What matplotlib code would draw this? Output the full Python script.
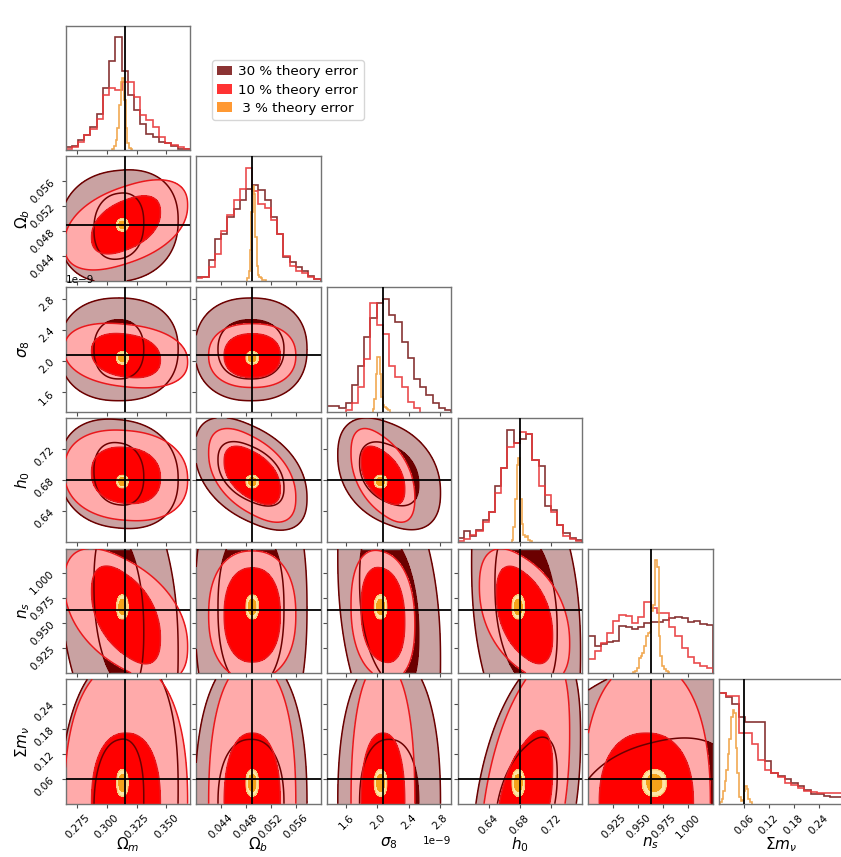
import numpy as np
import matplotlib
matplotlib.use("Agg")
import matplotlib.pyplot as plt
from matplotlib.patches import Patch

# parameters of the corner plot
LABELS = [r"$\Omega_m$", r"$\Omega_b$", r"$\sigma_8$", r"$h_0$", r"$n_s$", r"$\Sigma m_\nu$"]
TRUTHS = [0.3150, 0.0490, 2.075e-9, 0.680, 0.9630, 0.060]
RANGES = [(0.265, 0.370), (0.040, 0.060), (1.35e-9, 2.95e-9),
          (0.600, 0.760), (0.900, 1.0244), (0.0, 0.300)]
TICKS = [[0.275, 0.300, 0.325, 0.350],
         [0.044, 0.048, 0.052, 0.056],
         [1.6e-9, 2.0e-9, 2.4e-9, 2.8e-9],
         [0.64, 0.68, 0.72],
         [0.925, 0.950, 0.975, 1.000],
         [0.06, 0.12, 0.18, 0.24]]

LEVEL_LABELS = ["30 % theory error", "10 % theory error", " 3 % theory error"]

# 1D marginals (relative counts) and the span each histogram covers
SPAN_OM_30 = (0.265, 0.370)
HIST_OM_30 = [0.027, 0.035, 0.08, 0.12, 0.19, 0.29, 0.50, 0.72, 0.907, 0.64,
              0.44, 0.32, 0.21, 0.13, 0.11, 0.067, 0.054, 0.032, 0.013, 0.008]
SPAN_OM_10 = (0.265, 0.370)
HIST_OM_10 = [0.013, 0.027, 0.067, 0.12, 0.17, 0.25, 0.44, 0.50, 0.48, 0.55,
              0.55, 0.43, 0.28, 0.24, 0.19, 0.11, 0.054, 0.04, 0.027, 0.01]
SPAN_OM_3 = (0.3045, 0.3215)
HIST_OM_3 = [0.01, 0.03, 0.08, 0.18, 0.36, 0.55, 0.58, 0.40, 0.18, 0.06, 0.02, 0.01]

SPAN_OB_30 = (0.040, 0.060)
HIST_OB_30 = [0.035, 0.035, 0.17, 0.34, 0.38, 0.51, 0.58, 0.65, 0.74, 0.77,
              0.73, 0.65, 0.51, 0.38, 0.19, 0.15, 0.11, 0.08, 0.04, 0.013]
SPAN_OB_10 = (0.040, 0.060)
HIST_OB_10 = [0.02, 0.035, 0.11, 0.22, 0.40, 0.53, 0.65, 0.74, 0.906, 0.72,
              0.62, 0.59, 0.49, 0.38, 0.20, 0.12, 0.08, 0.06, 0.03, 0.015]
SPAN_OB_3 = (0.0482, 0.0512)
HIST_OB_3 = [0.02, 0.08, 0.25, 0.55, 0.76, 0.70, 0.35, 0.12, 0.05, 0.03, 0.02, 0.01, 0.01, 0.005]

SPAN_S8_30 = (1.35e-9, 2.95e-9)
HIST_S8_30 = [0.048, 0.048, 0.03, 0.07, 0.21, 0.37, 0.60, 0.75, 0.87, 0.906,
              0.78, 0.72, 0.56, 0.43, 0.26, 0.20, 0.13, 0.07, 0.03, 0.015]
SPAN_S8_10 = (1.59e-9, 2.55e-9)
HIST_S8_10 = [0.015, 0.07, 0.20, 0.42, 0.87, 0.70, 0.62, 0.37, 0.28, 0.20, 0.08, 0.03]
SPAN_S8_3 = (1.942e-9, 2.158e-9)
HIST_S8_3 = [0.02, 0.10, 0.30, 0.44, 0.44, 0.30, 0.12, 0.05, 0.04, 0.03, 0.02, 0.01]

SPAN_H0_30 = (0.600, 0.760)
HIST_H0_30 = [0.035, 0.09, 0.05, 0.10, 0.18, 0.24, 0.45, 0.60, 0.906, 0.80,
              0.83, 0.87, 0.66, 0.61, 0.29, 0.26, 0.14, 0.075, 0.035, 0.02]
SPAN_H0_10 = (0.600, 0.760)
HIST_H0_10 = [0.01, 0.03, 0.06, 0.09, 0.16, 0.24, 0.40, 0.60, 0.77, 0.80,
              0.885, 0.87, 0.66, 0.45, 0.38, 0.24, 0.14, 0.05, 0.03, 0.01]
SPAN_H0_3 = (0.6693, 0.6950)
HIST_H0_3 = [0.02, 0.12, 0.35, 0.62, 0.68, 0.35, 0.15, 0.06, 0.04, 0.05, 0.02, 0.01]

SPAN_NS_30 = (0.900, 1.0244)
HIST_NS_30 = [0.30, 0.22, 0.23, 0.25, 0.26, 0.38, 0.37, 0.35, 0.37, 0.40,
              0.41, 0.41, 0.43, 0.44, 0.45, 0.44, 0.41, 0.42, 0.39, 0.385]
SPAN_NS_10 = (0.900, 1.0244)
HIST_NS_10 = [0.116, 0.18, 0.24, 0.32, 0.42, 0.466, 0.46, 0.40, 0.45, 0.574,
              0.52, 0.485, 0.485, 0.37, 0.30, 0.20, 0.13, 0.08, 0.054, 0.043]
SPAN_NS_3 = (0.945, 0.981)
HIST_NS_3 = [0.01, 0.02, 0.04, 0.12, 0.14, 0.16, 0.22, 0.30, 0.32, 0.33,
             0.50, 0.55, 0.91, 0.85, 0.30, 0.14, 0.06, 0.03, 0.015, 0.005]

SPAN_MNU_30 = (0.0, 0.300)
HIST_MNU_30 = [0.887, 0.86, 0.80, 0.70, 0.656, 0.656, 0.656, 0.34, 0.25, 0.22,
               0.20, 0.17, 0.14, 0.11, 0.08, 0.075, 0.065, 0.055, 0.05]
SPAN_MNU_10 = (0.0, 0.300)
HIST_MNU_10 = [0.89, 0.866, 0.866, 0.57, 0.57, 0.48, 0.355, 0.27, 0.25, 0.215,
               0.17, 0.15, 0.13, 0.10, 0.095, 0.086, 0.086, 0.086, 0.09]
SPAN_MNU_3 = (0.0024, 0.0786)
HIST_MNU_3 = [0.01, 0.04, 0.10, 0.18, 0.27, 0.40, 0.52, 0.70, 0.75, 0.73,
              0.45, 0.25, 0.05, 0.02, 0.03, 0.10, 0.14, 0.12, 0.04, 0.01]

# 2D credible regions: centre, inner (68%) and outer (95%) half widths per parameter
MEAN_30 = [0.310, 0.0488, 2.15e-9, 0.688, 0.965, 0.0]
INNER_30 = [0.021, 0.0053, 0.38e-9, 0.040, 0.080, 0.155]
OUTER_30 = [0.050, 0.0090, 0.66e-9, 0.070, 0.150, 0.360]

MEAN_10 = [0.316, 0.0490, 2.07e-9, 0.686, 0.958, 0.0]
INNER_10 = [0.029, 0.0045, 0.28e-9, 0.036, 0.047, 0.170]
OUTER_10 = [0.052, 0.0070, 0.41e-9, 0.058, 0.064, 0.340]

MEAN_3 = [0.3130, 0.0490, 2.04e-9, 0.678, 0.966, 0.050]
INNER_3 = [0.0030, 0.0006, 0.05e-9, 0.005, 0.0075, 0.020]
OUTER_3 = [0.0048, 0.0010, 0.08e-9, 0.008, 0.012, 0.032]

PAIRS = [(0, 1), (0, 2), (1, 2), (0, 3), (1, 3), (2, 3), (0, 4), (1, 4),
         (2, 4), (3, 4), (0, 5), (1, 5), (2, 5), (3, 5), (4, 5)]
RHO_30 = [0.1, 0.0, 0.0, -0.1, -0.45, -0.35, -0.3, 0.0, -0.35, -0.3, 0.1, 0.0, 0.0, 0.45, 0.3]
RHO_10 = [0.45, -0.2, 0.0, -0.1, -0.5, -0.5, -0.5, 0.0, -0.15, -0.45, 0.0, 0.0, 0.0, 0.5, 0.0]
RHO_3 = [0.0] * 15

HIST_COLORS = ["#7b1e1e", "#e8383a", "#f0a040"]
FILL_OUT = ["#c9a2a2", "#ffaaaa", "#ffe6a6"]
FILL_IN = ["#6b0000", "#ff0000", "#f5a21a"]
LINE_COLORS = ["#6b0000", "#e8181c", "#f8c870"]
LEGEND_COLORS = ["#8b3333", "#ff3333", "#ff9933"]

POWER = 2.3

hists = [
    [(SPAN_OM_30, HIST_OM_30), (SPAN_OM_10, HIST_OM_10), (SPAN_OM_3, HIST_OM_3)],
    [(SPAN_OB_30, HIST_OB_30), (SPAN_OB_10, HIST_OB_10), (SPAN_OB_3, HIST_OB_3)],
    [(SPAN_S8_30, HIST_S8_30), (SPAN_S8_10, HIST_S8_10), (SPAN_S8_3, HIST_S8_3)],
    [(SPAN_H0_30, HIST_H0_30), (SPAN_H0_10, HIST_H0_10), (SPAN_H0_3, HIST_H0_3)],
    [(SPAN_NS_30, HIST_NS_30), (SPAN_NS_10, HIST_NS_10), (SPAN_NS_3, HIST_NS_3)],
    [(SPAN_MNU_30, HIST_MNU_30), (SPAN_MNU_10, HIST_MNU_10), (SPAN_MNU_3, HIST_MNU_3)],
]
levels = [(MEAN_30, INNER_30, OUTER_30, RHO_30),
          (MEAN_10, INNER_10, OUTER_10, RHO_10),
          (MEAN_3, INNER_3, OUTER_3, RHO_3)]


def region_distance(xg, yg, mx, my, sx, sy, rho):
    """Rounded, sheared box distance; 1 on the region boundary."""
    u = (xg - mx) / sx
    v = ((yg - my) / sy - rho * u) / np.sqrt(1 - rho ** 2)
    return (np.abs(u) ** POWER + np.abs(v) ** POWER) ** (1 / POWER)


W, H = 841, 857
PANEL = 124.5
PITCH = 130.7
X0, Y0 = 65.5, 25.7

fig = plt.figure(figsize=(W / 100, H / 100), dpi=100)
n = len(LABELS)
ymax = 1.1 * max(max(h) for row in hists for _, h in row)

for row in range(n):
    for col in range(row + 1):
        left = X0 + col * PITCH
        top = Y0 + row * PITCH
        ax = fig.add_axes([left / W, 1 - (top + PANEL) / H, PANEL / W, PANEL / H])
        xlo, xhi = RANGES[col]

        if row == col:
            for k, (span, h) in enumerate(hists[col]):
                edges = np.linspace(span[0], span[1], len(h) + 1)
                ax.stairs(h, edges, color=HIST_COLORS[k], lw=1.2, alpha=0.9)
            ax.axvline(TRUTHS[col], color="k", lw=1.3, zorder=10)
            ax.set_ylim(0, ymax)
            ax.set_yticks([])
        else:
            ylo, yhi = RANGES[row]
            xs = np.linspace(xlo, xhi, 320)
            ys = np.linspace(ylo, yhi, 320)
            XG, YG = np.meshgrid(xs, ys)
            p = PAIRS.index((col, row))
            z = 1
            for k, (mean, inner, outer, rho) in enumerate(levels):
                d_out = region_distance(XG, YG, mean[col], mean[row], outer[col], outer[row], rho[p])
                d_in = region_distance(XG, YG, mean[col], mean[row], inner[col], inner[row], rho[p])
                lw = 1.1 if k < 2 else 0.8
                ax.contourf(XG, YG, d_out, levels=[0, 1], colors=[FILL_OUT[k]], zorder=z)
                ax.contourf(XG, YG, d_in, levels=[0, 1], colors=[FILL_IN[k]], zorder=z + 0.5)
                line_z = 6 if k < 2 else 8
                ax.contour(XG, YG, d_out, levels=[1], colors=[LINE_COLORS[k]], linewidths=lw, zorder=line_z)
                ax.contour(XG, YG, d_in, levels=[1], colors=[LINE_COLORS[k]], linewidths=lw, zorder=line_z)
                z += 1 if k < 1 else 6
            ax.axvline(TRUTHS[col], color="k", lw=1.3, zorder=10)
            ax.axhline(TRUTHS[row], color="k", lw=1.3, zorder=10)
            ax.set_ylim(ylo, yhi)
            ax.set_yticks(TICKS[row])
            if col == 0:
                for lab in ax.get_yticklabels():
                    lab.set_rotation(45)
                ax.set_ylabel(LABELS[row], fontsize=11)
                ax.yaxis.set_label_coords(-0.27, 0.5)
            else:
                ax.set_yticklabels([])

        ax.set_xlim(xlo, xhi)
        ax.set_xticks(TICKS[col])
        if row == n - 1:
            for lab in ax.get_xticklabels():
                lab.set_rotation(45)
            ax.set_xlabel(LABELS[col], fontsize=11)
            ax.xaxis.set_label_coords(0.5, -0.255)
        else:
            ax.set_xticklabels([])

        ax.tick_params(direction="out", length=3, width=0.8, color="0.3", labelsize=7.5)
        ax.xaxis.get_offset_text().set_fontsize(7.5)
        ax.yaxis.get_offset_text().set_fontsize(7.5)
        for sp in ax.spines.values():
            sp.set_color("0.45")
            sp.set_linewidth(1.0)

handles = [Patch(facecolor=c, label=l) for c, l in zip(LEGEND_COLORS, LEVEL_LABELS)]
fig.legend(handles=handles, loc="upper left", bbox_to_anchor=(212 / W, 1 - 60 / H),
           borderaxespad=0, fontsize=9.7, handlelength=1.1, handletextpad=0.45,
           labelspacing=0.38, frameon=True)

fig.savefig("out.png", dpi=100)
